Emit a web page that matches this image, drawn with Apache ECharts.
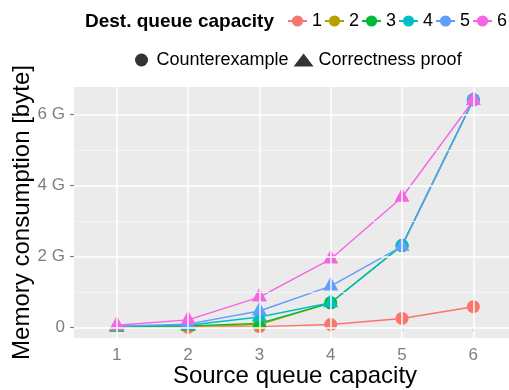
<!DOCTYPE html>
<html><head><meta charset="utf-8">
<script src="https://cdn.jsdelivr.net/npm/echarts@6/dist/echarts.min.js"></script>
<style>html,body{margin:0;padding:0;background:#fff}#c{width:509px;height:390px}</style>
</head><body><div id="c"></div>
<script>
// ---- data ----
const sourceCapacity = [1, 2, 3, 4, 5, 6];
const destCapacity = ['1', '2', '3', '4', '5', '6'];
// memory consumption in G bytes, per destination queue capacity
const memDest1 = [0.01, 0.01, 0.03, 0.09, 0.26, 0.59];
const memDest2 = [0.01, 0.03, 0.09, 0.70, 2.31, 6.41];
const memDest3 = [0.02, 0.05, 0.12, 0.70, 2.31, 6.41];
const memDest4 = [0.03, 0.07, 0.30, 0.70, 2.31, 6.41];
const memDest5 = [0.04, 0.10, 0.47, 1.17, 2.29, 6.41];
const memDest6 = [0.07, 0.22, 0.86, 1.93, 3.67, 6.39];
// result type: 'C' = Counterexample, 'P' = Correctness proof
const resDest1 = ['P', 'C', 'C', 'C', 'C', 'C'];
const resDest2 = ['P', 'P', 'C', 'C', 'C', 'C'];
const resDest3 = ['P', 'P', 'P', 'C', 'C', 'C'];
const resDest4 = ['P', 'P', 'P', 'P', 'C', 'C'];
const resDest5 = ['P', 'P', 'P', 'P', 'P', 'C'];
const resDest6 = ['P', 'P', 'P', 'P', 'P', 'P'];
const resultNames = ['Counterexample', 'Correctness proof'];
const yTickValues = [0, 2, 4, 6];
const yMinorValues = [1, 3, 5];
const xTickValues = [1, 2, 3, 4, 5, 6];

// ---- styling ----
const FONT = 'Liberation Sans, Arial, Helvetica, sans-serif';
const colors = ['#F8766D', '#B79F00', '#00BA38', '#00BFC4', '#619CFF', '#F564E3'];
const mems = [memDest1, memDest2, memDest3, memDest4, memDest5, memDest6];
const ress = [resDest1, resDest2, resDest3, resDest4, resDest5, resDest6];

const series = [];
// grid lines drawn through the axes' scales
const gridLines = [];
yTickValues.forEach(v => gridLines.push({ yAxis: v, lineStyle: { color: '#FFFFFF', width: 1.5, type: 'solid' } }));
yMinorValues.forEach(v => gridLines.push({ yAxis: v, lineStyle: { color: '#F6F6F6', width: 0.8, type: 'solid' } }));
xTickValues.forEach(v => gridLines.push({ xAxis: v, lineStyle: { color: '#FFFFFF', width: 1.5, type: 'solid' } }));
series.push({
  type: 'line', data: [], z: 1, silent: true,
  markLine: { silent: true, symbol: 'none', label: { show: false }, animation: false, data: gridLines }
});

destCapacity.forEach((d, i) => {
  series.push({
    name: d, type: 'line', z: 3,
    data: sourceCapacity.map((s, j) => [s, mems[i][j]]),
    symbol: 'circle', showSymbol: false,
    lineStyle: { color: colors[i], width: 1.4 },
    itemStyle: { color: colors[i] },
    animation: false
  });
});
destCapacity.forEach((d, i) => {
  series.push({
    name: d, type: 'scatter', z: 4,
    data: sourceCapacity.map((s, j) => ress[i][j] === 'P'
      ? { value: [s, mems[i][j]], symbol: 'triangle', symbolSize: [15, 14], symbolOffset: [0, -2.5] }
      : { value: [s, mems[i][j]], symbol: 'circle', symbolSize: 13 }),
    itemStyle: { color: colors[i], opacity: 1 },
    animation: false
  });
});
series.push({ name: resultNames[0], type: 'scatter', data: [], symbol: 'circle', itemStyle: { color: '#000' } });
series.push({ name: resultNames[1], type: 'scatter', data: [], symbol: 'triangle', itemStyle: { color: '#000' } });

const chart = echarts.init(document.getElementById('c'), null, { renderer: 'canvas' });
chart.setOption({
  animation: false,
  backgroundColor: '#FFFFFF',
  textStyle: { fontFamily: FONT },
  title: {
    text: 'Dest. queue capacity', left: 85, top: 12, padding: 0,
    textStyle: { fontSize: 19, fontWeight: 'bold', color: '#000', fontFamily: FONT }
  },
  legend: [{
    data: destCapacity, left: 287, top: 12, padding: 0, width: 260,
    itemWidth: 19, itemHeight: 14, itemGap: 2, selectedMode: false,
    textStyle: { fontSize: 18, color: '#000', fontFamily: FONT }
  }, {
    data: [{ name: resultNames[0], icon: 'circle' }, { name: resultNames[1], icon: 'triangle' }],
    left: 135, top: 51, padding: 0, width: 400,
    itemWidth: 20, itemHeight: 13, itemGap: 5, selectedMode: false,
    textStyle: { fontSize: 18, color: '#000', fontFamily: FONT }
  }],
  grid: {
    left: 74, right: 0, top: 87, bottom: 52, show: true,
    backgroundColor: '#EBEBEB', borderWidth: 0, containLabel: false, outerBoundsMode: 'none'
  },
  xAxis: {
    type: 'value', min: 0.4, max: 6.5,
    name: 'Source queue capacity', nameLocation: 'middle', nameGap: 26, nameMoveOverlap: false,
    nameTextStyle: { fontSize: 24, color: '#000', fontFamily: FONT, padding: [0, 0, 0, 7] },
    axisLine: { show: false },
    axisTick: { show: true, length: 4, customValues: xTickValues, lineStyle: { color: '#7F7F7F', width: 1.2 } },
    axisLabel: { customValues: xTickValues, margin: 9, fontSize: 17, color: '#7F7F7F', fontFamily: FONT },
    splitLine: { show: false }
  },
  yAxis: {
    type: 'value', min: -0.29, max: 6.77,
    name: 'Memory consumption [byte]', nameLocation: 'middle', nameGap: 40, nameMoveOverlap: false,
    nameTextStyle: { fontSize: 24, color: '#000', fontFamily: FONT },
    axisLine: { show: false },
    axisTick: { show: true, length: 4, customValues: yTickValues, lineStyle: { color: '#7F7F7F', width: 1.2 } },
    axisLabel: {
      customValues: yTickValues, margin: 9, fontSize: 17, color: '#7F7F7F', fontFamily: FONT,
      formatter: v => (v === 0 ? '0' : v + ' G')
    },
    splitLine: { show: false }
  },
  series: series
});
</script></body></html>
